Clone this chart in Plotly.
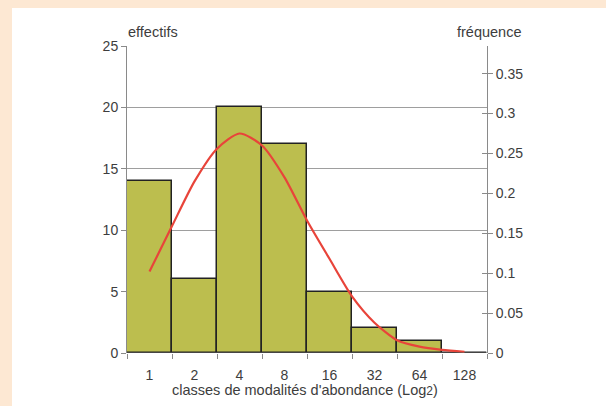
import plotly.graph_objects as go

classes = ["1", "2", "4", "8", "16", "32", "64", "128"]
effectifs = [14, 6, 20, 17, 5, 2, 1, 0]
total = 65

curve_x = [0.0, 0.5, 1.0, 1.5, 2.0, 2.5, 3.0, 3.5, 4.0, 4.5, 5.0, 5.5, 6.0, 6.5, 7.0]
curve_freq = [0.102, 0.159, 0.215, 0.256, 0.275, 0.260, 0.220, 0.166, 0.118, 0.071,
              0.038, 0.016, 0.008, 0.004, 0.0015]

left_ticks = [0, 5, 10, 15, 20, 25]
right_ticks = [0, 0.05, 0.1, 0.15, 0.2, 0.25, 0.3, 0.35]
right_labels = ["0", "0.05", "0.1", "0.15", "0.2", "0.25", "0.3", "0.35"]

FONT = "Liberation Sans, Arial, sans-serif"
TXT = "#3d3d3d"
AX = "#8a8a8a"
TICK = 14
TITLE = 14.5

xpos = list(range(len(classes)))
fig = go.Figure()
fig.add_trace(go.Bar(
    x=xpos, y=effectifs, width=1,
    marker=dict(color="#bcbe4e", line=dict(color="#222222", width=1.5)),
    yaxis="y", xaxis="x", hoverinfo="skip", showlegend=False,
))
fig.add_trace(go.Scatter(
    x=curve_x, y=curve_freq, mode="lines",
    line=dict(color="#e8443a", width=2.2, shape="spline", smoothing=0.7),
    yaxis="y2", xaxis="x", showlegend=False, hoverinfo="skip",
))
fig.add_trace(go.Scatter(x=[0], y=[0], mode="markers", marker=dict(opacity=0),
                         xaxis="x2", yaxis="y3", showlegend=False, hoverinfo="skip"))

xr = [-0.5, len(classes) - 0.5]
boundaries = [i + 0.5 for i in range(-1, len(classes))]

fig.update_layout(
    width=606, height=406,
    margin=dict(l=127, r=119, t=46, b=53),
    paper_bgcolor="#fde8d3",
    plot_bgcolor="rgba(0,0,0,0)",
    bargap=0,
    font=dict(family=FONT, size=12, color=TXT),
    xaxis=dict(range=xr, tickvals=xpos, ticktext=classes, ticks="",
               showgrid=False, zeroline=False, showline=False, ticklabelstandoff=12,
               tickfont=dict(size=TICK, color=TXT), fixedrange=True),
    xaxis2=dict(range=xr, overlaying="x", tickvals=boundaries, ticktext=[""] * len(boundaries),
                ticks="outside", ticklen=5, tickcolor=AX, showgrid=False,
                zeroline=False, showline=False, side="bottom", anchor="y"),
    yaxis=dict(range=[0, 25], tickvals=left_ticks, ticks="outside", ticklen=5,
               tickcolor=AX, showline=True, linecolor=AX, linewidth=1,
               showgrid=True, gridcolor="#9e9e9e", gridwidth=1, zeroline=False,
               tickfont=dict(size=TICK, color=TXT), layer="below traces"),
    yaxis2=dict(range=[0, 25 / total], overlaying="y", side="right",
                tickvals=right_ticks, ticktext=right_labels,
                ticks="outside", ticklen=5, tickcolor=AX,
                showline=True, linecolor=AX, linewidth=1, showgrid=False, zeroline=False,
                tickfont=dict(size=TICK, color=TXT)),
    yaxis3=dict(range=[0, 25 / total], overlaying="y", side="right", anchor="x",
                tickvals=right_ticks, ticktext=[""] * len(right_ticks),
                ticks="inside", ticklen=5, tickcolor=AX, showline=False,
                showgrid=False, zeroline=False),
    shapes=[
        dict(type="rect", xref="paper", yref="paper", layer="below",
             x0=-(127 - 12) / 360, x1=(606 - 127) / 360, y0=-53 / 307, y1=(353 - 8) / 307,
             fillcolor="white", line=dict(width=0)),
        dict(type="line", xref="paper", yref="y", x0=0, x1=1, y0=0, y1=0,
             line=dict(color="#666666", width=1.2), layer="above"),
    ],
    annotations=[
        dict(text="effectifs", xref="paper", yref="paper", x=(126 - 127) / 360, y=(353 - 32) / 307,
             xanchor="left", yanchor="middle", showarrow=False, font=dict(size=TITLE, color=TXT)),
        dict(text="fréquence", xref="paper", yref="paper", x=(524 - 127) / 360, y=(353 - 32) / 307,
             xanchor="right", yanchor="middle", showarrow=False, font=dict(size=TITLE, color=TXT)),
        dict(text="classes de modalités d'abondance (Log<span style='font-size:12px'>2</span>)",
             xref="paper", yref="paper", x=(305 - 127) / 360, y=-(390 - 353) / 307,
             xanchor="center", yanchor="middle", showarrow=False, font=dict(size=TITLE, color=TXT)),
    ],
)

fig.write_html("out.html", config={"displayModeBar": False},
               post_script="document.body.style.margin='0';")
